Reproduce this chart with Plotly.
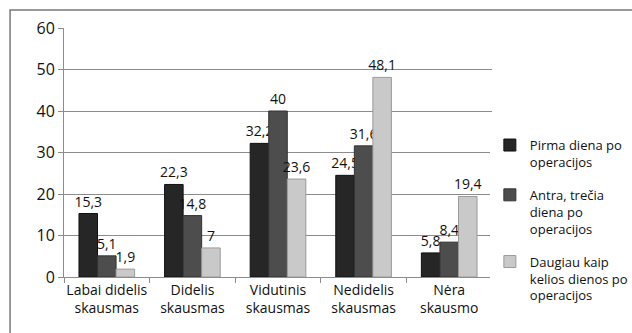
import plotly.graph_objects as go

categories = ["Labai didelis<br>skausmas", "Didelis<br>skausmas", "Vidutinis<br>skausmas",
              "Nedidelis<br>skausmas", "Nėra<br>skausmo"]
series_names = ["Pirma diena po<br>operacijos",
                "Antra, trečia<br>diena po<br>operacijos",
                "Daugiau kaip<br>kelios dienos po<br>operacijos"]
first_day = [15.3, 22.3, 32.2, 24.5, 5.8]
second_third_day = [5.1, 14.8, 40, 31.6, 8.4]
several_days = [1.9, 7, 23.6, 48.1, 19.4]
y_ticks = [0, 10, 20, 30, 40, 50, 60]

colors = ["#262626", "#4d4d4d", "#c9c9c9"]
edge_colors = ["#111111", "#333333", "#9a9a9a"]
font_family = "Open Sans, DejaVu Sans, sans-serif"


def fmt(v):
    return ("%g" % v).replace(".", ",")


fig = go.Figure()
for i, (name, vals, col, edge) in enumerate(zip(
        series_names, [first_day, second_third_day, several_days], colors, edge_colors)):
    fig.add_trace(go.Bar(
        x=categories, y=vals, name=name, legendgroup=f"g{i}",
        marker=dict(color=col, line=dict(color=edge, width=1)),
        text=[fmt(v) for v in vals], textposition="outside",
        constraintext="none",
        textfont=dict(size=14, color="#111111", family=font_family),
        cliponaxis=False,
    ))

# outer chart frame
fig.add_shape(type="rect", xref="paper", yref="paper",
              x0=-0.126, x1=1.33, y0=-0.4, y1=1.072,
              line=dict(color="#7a7a7a", width=1.5), layer="below")

fig.update_layout(
    width=632, height=333,
    margin=dict(l=64, r=140, t=28, b=56, autoexpand=False),
    paper_bgcolor="white", plot_bgcolor="white",
    barmode="group", bargap=0.35, bargroupgap=0,
    font=dict(family=font_family, color="#111111"),
    showlegend=True,
    legend=dict(x=0.995, xanchor="left", y=0.59, yanchor="top",
                font=dict(size=13, family=font_family), valign="top",
                tracegroupgap=13, itemwidth=30),
)
fig.update_xaxes(
    showline=True, linecolor="#8c8c8c", linewidth=1,
    ticks="outside", tickson="boundaries", ticklen=5, tickcolor="#8c8c8c",
    tickangle=0, automargin=False,
    tickfont=dict(size=14, family=font_family), showgrid=False,
)
fig.update_yaxes(
    range=[0, 60], tickvals=y_ticks, showgrid=True, gridcolor="#8c8c8c", gridwidth=1,
    showline=True, linecolor="#8c8c8c", linewidth=1,
    ticks="outside", ticklen=5, tickcolor="#8c8c8c", automargin=False,
    tickfont=dict(size=16, family=font_family), zeroline=False,
)

fig.write_html("out.html")
